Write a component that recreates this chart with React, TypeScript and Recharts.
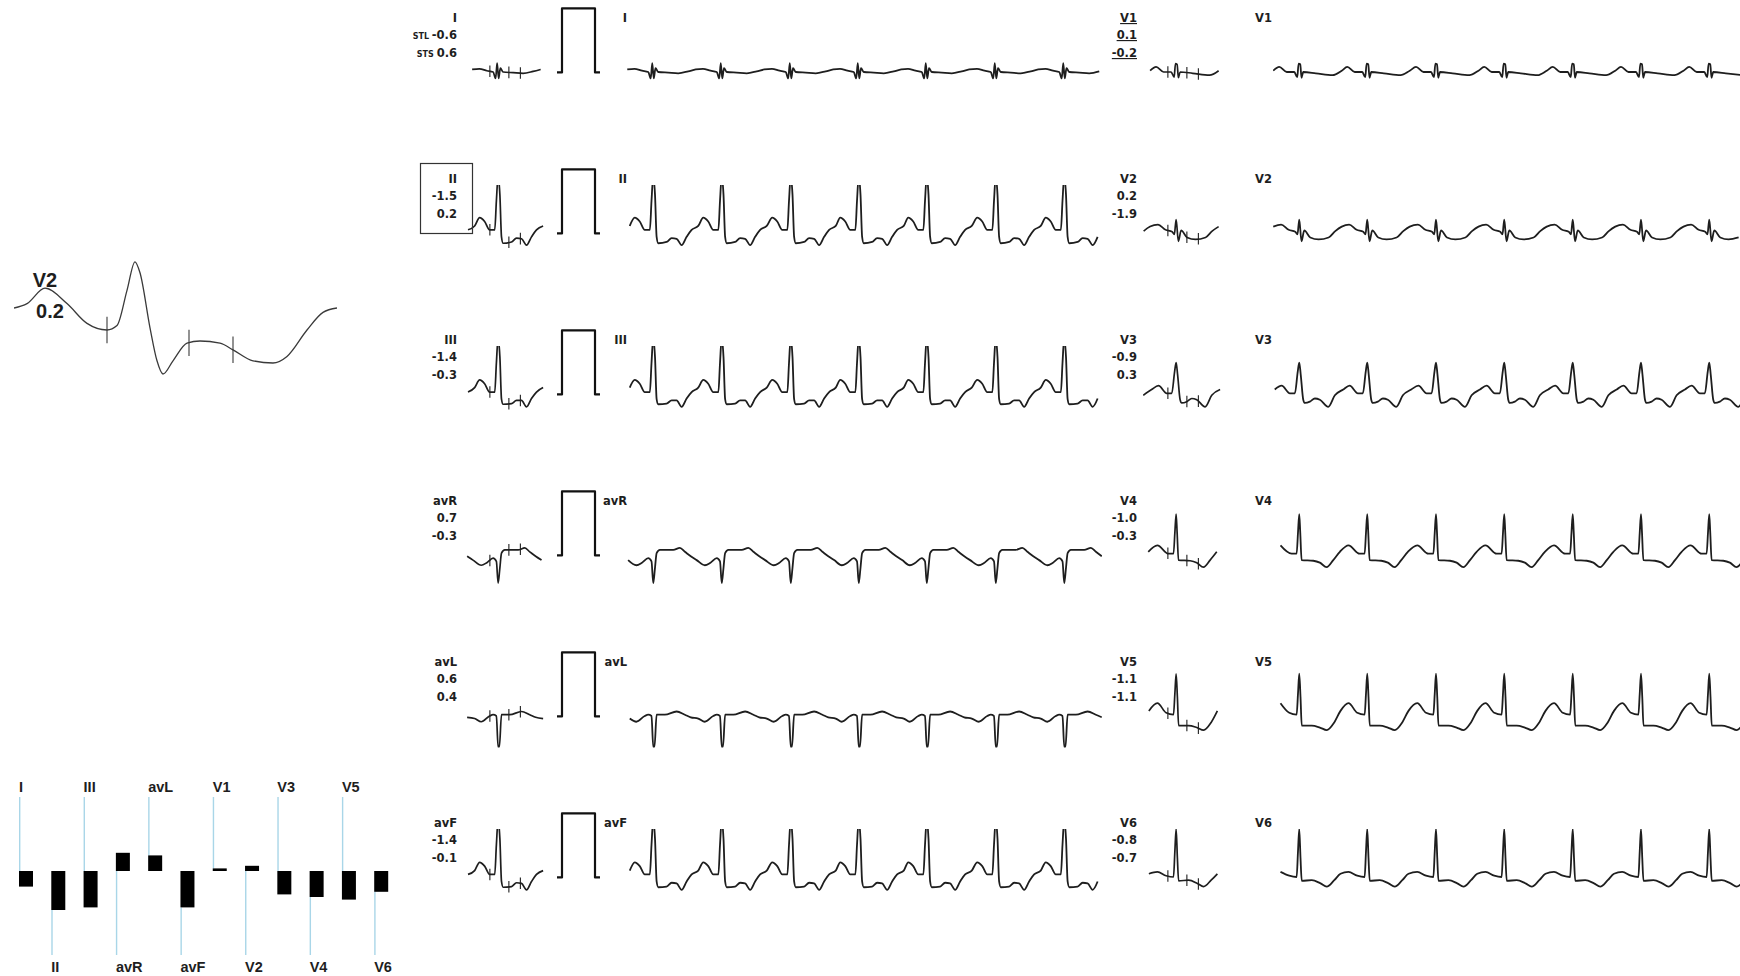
import React from 'react';
import { LineChart, Line, XAxis, YAxis, ReferenceLine, BarChart, Bar } from 'recharts';

type Pt = [number, number];

// ---------- data ----------
const LEADS = ['I', 'II', 'III', 'avR', 'avL', 'avF', 'V1', 'V2', 'V3', 'V4', 'V5', 'V6'];
const STL = [-0.6, -1.5, -1.4, 0.7, 0.6, -1.4, 0.1, 0.2, -0.9, -1.0, -1.1, -0.8];
const STS = [0.6, 0.2, -0.3, -0.3, 0.4, -0.1, -0.2, -1.9, 0.3, -0.3, -1.1, -0.7];

// one beat per lead: [ms relative to R peak, mV]
const BEAT_I: Pt[] = [[-150, 0.05], [-90, 0.02], [-40, 0.0], [-20, -0.1], [-8, 0.14], [4, -0.1], [18, 0.06], [40, 0.0], [120, -0.01], [200, -0.02], [280, 0.01], [340, 0.04]];
const BEAT_II: Pt[] = [[-148, 0.24], [-108, 0.18], [-68, 0.05], [-27, 0.05], [-14, 0.5], [0, 0.89], [14, 0.6], [27, -0.06], [40, -0.16], [107, -0.14], [147, -0.08], [187, -0.09], [227, -0.19], [267, -0.06], [307, 0.05], [360, 0.11]];
const BEAT_III: Pt[] = [[-148, 0.22], [-108, 0.16], [-68, 0.03], [-27, 0.03], [-14, 0.48], [0, 0.88], [14, 0.58], [27, -0.08], [40, -0.16], [107, -0.15], [147, -0.1], [187, -0.1], [227, -0.2], [267, -0.07], [307, 0.03], [360, 0.1]];
const BEAT_AVR: Pt[] = [[-135, -0.16], [-90, -0.12], [-40, -0.05], [-14, -0.1], [0, -0.44], [14, -0.2], [27, 0.03], [53, 0.08], [160, 0.08], [213, 0.11], [253, 0.05], [300, -0.02], [347, -0.08]];
const BEAT_AVL: Pt[] = [[-135, -0.09], [-68, 0.0], [-40, 0.02], [-14, 0.0], [0, -0.48], [10, -0.48], [27, 0.02], [93, 0.02], [187, 0.07], [253, 0.02], [300, -0.02], [360, -0.04]];
const BEAT_AVF: Pt[] = [[-148, 0.23], [-108, 0.17], [-68, 0.04], [-27, 0.04], [-14, 0.5], [0, 0.9], [14, 0.6], [27, -0.07], [40, -0.16], [107, -0.15], [147, -0.09], [187, -0.1], [227, -0.2], [267, -0.07], [307, 0.04], [360, 0.1]];
const BEAT_V1: Pt[] = [[-160, 0.08], [-100, 0.0], [-40, 0.0], [-16, -0.08], [-5, 0.13], [8, 0.12], [18, -0.09], [32, 0.0], [133, -0.02], [267, -0.05], [340, 0.02]];
const BEAT_V2: Pt[] = [[-145, 0.13], [-85, 0.05], [-32, 0.02], [-14, -0.02], [0, 0.21], [18, -0.13], [40, 0.04], [88, -0.07], [155, -0.1], [235, -0.07], [288, 0.03], [340, 0.1]];
const BEAT_V3: Pt[] = [[-141, 0.13], [-75, 0.01], [-35, 0.01], [-12, 0.35], [0, 0.49], [12, 0.3], [32, -0.09], [45, -0.14], [85, -0.12], [125, -0.07], [165, -0.09], [232, -0.2], [285, -0.02], [352, 0.07]];
const BEAT_V4: Pt[] = [[-150, 0.15], [-61, 0.02], [-21, 0.02], [-10, 0.35], [0, 0.64], [8, 0.35], [19, -0.08], [112, -0.09], [165, -0.12], [219, -0.19], [272, -0.08], [325, 0.05]];
const BEAT_V5: Pt[] = [[-150, 0.2], [-80, 0.05], [-21, 0.02], [-10, 0.35], [0, 0.66], [10, 0.3], [20, -0.15], [100, -0.15], [165, -0.18], [220, -0.22], [280, -0.1], [330, 0.08]];
const BEAT_V6: Pt[] = [[-150, 0.08], [-80, 0.02], [-21, 0.0], [-10, 0.4], [0, 0.75], [10, 0.3], [20, -0.06], [100, -0.05], [170, -0.1], [220, -0.15], [280, -0.05], [330, 0.05]];
const BEATS: Pt[][] = [BEAT_I, BEAT_II, BEAT_III, BEAT_AVR, BEAT_AVL, BEAT_AVF, BEAT_V1, BEAT_V2, BEAT_V3, BEAT_V4, BEAT_V5, BEAT_V6];

// R-peak times on the rhythm strips (ms from strip start)
const LIMB_R_TIMES = [-338, 210, 758, 1310, 1854, 2398, 2950, 3498];
const CHEST_R_TIMES = [-338, 210, 754, 1304, 1850, 2398, 2944, 3490, 4036];
const RR_MS = 548;
const MEDIAN_TICKS_MS = [-66, 86, 178];

// calibration pulse (1 mV)
const CAL_MS = [0, 40, 40, 304, 304, 344];
const CAL_MV = [0, 0, 1, 1, 0, 0];

// enlarged V2 median beat
const BIG_V2_MS = [-242, -216, -180, -136, -96, -56, -36, -16, 0, 10, 30, 44, 56, 76, 104, 130, 170, 196, 236, 276, 304, 344, 376, 404];
const BIG_V2_MV = [0.1, 0.12, 0.19, 0.12, 0.03, 0.0, 0.02, 0.18, 0.31, 0.26, 0.01, -0.14, -0.2, -0.14, -0.06, -0.05, -0.06, -0.09, -0.14, -0.15, -0.12, 0.0, 0.08, 0.1];
const BIG_V2_TICKS = [-56, 108, 196];

// ---------- helpers ----------
type P = { t: number; v: number };
function buildStrip(tpl: Pt[], beats: number[], end: number): P[] {
  const out: P[] = [];
  beats.forEach((r) => tpl.forEach(([t, v]) => { const x = r + t; if (x >= 0 && x <= end) out.push({ t: x, v }); }));
  return out.sort((a, b) => a.t - b.t);
}
function buildMedian(tpl: Pt[], lo: number, hi: number): P[] {
  const out: P[] = [];
  [-RR_MS, 0, RR_MS].forEach((k) => tpl.forEach(([t, v]) => { const x = t + k; if (x >= lo && x <= hi) out.push({ t: x, v }); }));
  return out.sort((a, b) => a.t - b.t);
}
function valueAt(d: P[], t: number): number {
  for (let i = 0; i < d.length - 1; i++) {
    if (d[i].t <= t && d[i + 1].t >= t) {
      const f = (t - d[i].t) / (d[i + 1].t - d[i].t || 1);
      return d[i].v + f * (d[i + 1].v - d[i].v);
    }
  }
  return 0;
}

const INK = '#1e1e1e';

type TraceProps = {
  data: P[]; left: number; top: number; width: number; height: number;
  xDomain: [number, number]; yDomain: [number, number]; sw?: number; color?: string;
  ticks?: number[]; tickLen?: number; curve?: 'linear' | 'monotone';
};
function Trace({ data, left, top, width, height, xDomain, yDomain, sw = 1.6, color = INK, ticks = [], tickLen = 0.09, curve = 'monotone' }: TraceProps) {
  return (
    <div style={{ position: 'absolute', left, top }}>
      <LineChart width={width} height={height} data={data} margin={{ top: 0, right: 0, bottom: 0, left: 0 }}>
        <XAxis dataKey="t" type="number" domain={xDomain} hide allowDataOverflow />
        <YAxis type="number" domain={yDomain} hide allowDataOverflow />
        <Line dataKey="v" type={curve} dot={false} stroke={color} strokeWidth={sw} isAnimationActive={false} strokeLinejoin="round" />
        {ticks.map((tk) => {
          const c = valueAt(data, tk);
          return (
            <ReferenceLine key={tk} ifOverflow="visible" stroke={color} strokeWidth={1.1}
              segment={[{ x: tk, y: c - tickLen }, { x: tk, y: c + tickLen }]} />
          );
        })}
      </LineChart>
    </div>
  );
}

const barData = LEADS.map((lead, i) => ({ lead, stl: STL[i] }));

function BarShape(props: any) {
  const { x, y, width, height, index, payload } = props;
  const top = Math.min(y, y + height);
  const bot = Math.max(y, y + height);
  const zero = payload.stl >= 0 ? bot : top;
  const up = index % 2 === 0;
  return (
    <g>
      {up ? (
        <line x1={x + 0.7} x2={x + 0.7} y1={zero - 74} y2={top} stroke="#a9d6e8" strokeWidth={1.4} />
      ) : (
        <line x1={x + 0.7} x2={x + 0.7} y1={bot} y2={zero + 84} stroke="#a9d6e8" strokeWidth={1.4} />
      )}
      <rect x={x} y={top} width={width} height={Math.max(bot - top, 1.5)} fill="#000" />
      <text x={x} y={up ? zero - 79 : zero + 101} fontFamily='"Liberation Sans", Arial, sans-serif'
        fontWeight="bold" fontSize={14.5} fill={INK}>{payload.lead}</text>
    </g>
  );
}

// ---------- layout ----------
const ROW_BASE = [72, 233, 394, 555, 716, 877];
const PX_PER_MV = 64;
const MS_PER_PX = 8;
const SMALL_Y: [number, number] = [-0.75, 0.75];
const MED_LO = -265;
const MED_HI = 375;
const LIMB_END = 3800;
const CHEST_END = 3776;
const BAR_PX_PER_UNIT = 26;
const BAR_TOP = 775;
const BAR_ZERO = 871;
const BAR_BOTTOM = 976;

export default function App() {
  const smallH = (SMALL_Y[1] - SMALL_Y[0]) * PX_PER_MV;
  const medW = (MED_HI - MED_LO) / MS_PER_PX;
  const calData = CAL_MS.map((t, i) => ({ t, v: CAL_MV[i] }));
  const bigData = BIG_V2_MS.map((t, i) => ({ t, v: BIG_V2_MV[i] }));
  const smallFont = '"DejaVu Sans", sans-serif';
  const barDomain: [number, number] = [-(BAR_BOTTOM - BAR_ZERO) / BAR_PX_PER_UNIT, (BAR_ZERO - BAR_TOP) / BAR_PX_PER_UNIT];

  return (
    <div style={{ position: 'fixed', left: 0, top: 0, width: 1740, height: 976, overflow: 'hidden', background: '#fff' }}>
      <style>{'.recharts-surface{overflow:visible}'}</style>

      {/* enlarged V2 beat */}
      <Trace data={bigData} left={14} top={242} width={323} height={154} xDomain={[-242, 404]} yDomain={[-0.3, 0.4]}
        sw={1.3} color="#3a3a3a" ticks={BIG_V2_TICKS} tickLen={0.06} />

      {/* ST bar chart */}
      <div style={{ position: 'absolute', left: 9.85, top: BAR_TOP }}>
        <BarChart width={387.5} height={BAR_BOTTOM - BAR_TOP} data={barData} margin={{ top: 0, right: 0, bottom: 0, left: 0 }}>
          <XAxis dataKey="lead" hide />
          <YAxis type="number" domain={barDomain} hide allowDataOverflow />
          <Bar dataKey="stl" barSize={14} shape={<BarShape />} isAnimationActive={false} />
        </BarChart>
      </div>

      {LEADS.map((name, i) => {
        const col = i < 6 ? 0 : 1;
        const base = ROW_BASE[i % 6];
        const tpl = BEATS[i];
        const medLeft = col ? 1143 : 465;
        const stripLeft = col ? 1273 : 627;
        const stripEnd = col ? CHEST_END : LIMB_END;
        const strip = buildStrip(tpl, col ? CHEST_R_TIMES : LIMB_R_TIMES, stripEnd);
        const med = buildMedian(tpl, MED_LO, MED_HI);
        return (
          <React.Fragment key={name}>
            <Trace data={med} left={medLeft} top={base - SMALL_Y[1] * PX_PER_MV} width={medW} height={smallH}
              xDomain={[MED_LO, MED_HI]} yDomain={SMALL_Y} sw={1.7} ticks={MEDIAN_TICKS_MS} />
            <Trace data={strip} left={stripLeft} top={base - SMALL_Y[1] * PX_PER_MV} width={stripEnd / MS_PER_PX} height={smallH}
              xDomain={[0, stripEnd]} yDomain={SMALL_Y} sw={1.8} />
            {col === 0 && (
              <Trace data={calData} left={557} top={base - 1.1 * PX_PER_MV} width={43} height={1.2 * PX_PER_MV}
                xDomain={[0, 344]} yDomain={[-0.1, 1.1]} sw={2.2} color="#111" curve="linear" />
            )}
          </React.Fragment>
        );
      })}

      <svg width={1740} height={976} style={{ position: 'absolute', left: 0, top: 0, pointerEvents: 'none' }}>
        <text x={45} y={287} textAnchor="middle" fontFamily='"Liberation Sans", Arial, sans-serif' fontWeight="bold" fontSize={20} fill={INK}>V2</text>
        <text x={50} y={318} textAnchor="middle" fontFamily='"Liberation Sans", Arial, sans-serif' fontWeight="bold" fontSize={20} fill={INK}>{STL[7].toFixed(1)}</text>
        <rect x={420.5} y={163.5} width={52} height={70} fill="none" stroke="#333" strokeWidth={1.2} />
        {LEADS.map((name, i) => {
          const col = i < 6 ? 0 : 1;
          const base = ROW_BASE[i % 6];
          const mx = col ? 1137 : 457;
          const rx = col ? 1272 : 627;
          const ul = name === 'V1' ? 'underline' : 'none';
          const common = { fontFamily: smallFont, fontWeight: 'bold' as const, fill: INK, fontSize: 11.5, textAnchor: 'end' as const };
          return (
            <g key={name}>
              <text {...common} x={mx} y={base - 50} style={{ textDecoration: ul }}>{name}</text>
              <text {...common} x={mx} y={base - 33} style={{ textDecoration: ul }}>
                {i === 0 && <tspan fontSize={8}>STL </tspan>}
                <tspan>{STL[i].toFixed(1)}</tspan>
              </text>
              <text {...common} x={mx} y={base - 15} style={{ textDecoration: ul }}>
                {i === 0 && <tspan fontSize={8}>STS </tspan>}
                <tspan>{STS[i].toFixed(1)}</tspan>
              </text>
              <text {...common} x={rx} y={base - 50}>{name}</text>
            </g>
          );
        })}
      </svg>
    </div>
  );
}
